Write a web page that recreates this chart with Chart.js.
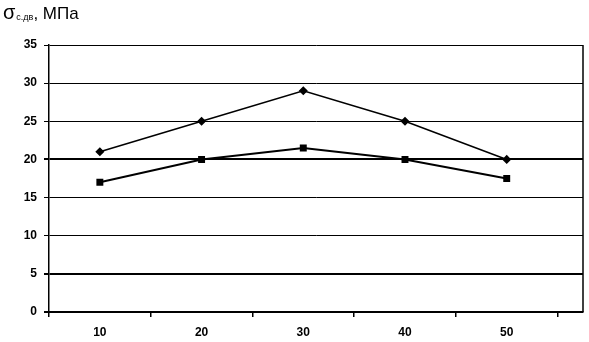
<!DOCTYPE html>
<html>
<head>
<meta charset="utf-8">
<script src="https://cdn.jsdelivr.net/npm/chart.js@4/dist/chart.umd.min.js"></script>
<style>
  html, body { margin: 0; padding: 0; background: #fff; }
  #wrap { width: 589px; height: 342px; position: relative; }
</style>
</head>
<body>
<div id="wrap"><canvas id="grafico"></canvas></div>
<script>
// dados do gráfico
var categorias = [10, 20, 30, 40, 50];
var serieSuperior = [21, 25, 29, 25, 20];
var serieInferior = [17, 20, 21.5, 20, 17.5];
var ticksY = [0, 5, 10, 15, 20, 25, 30, 35];
var tituloEixo = { base: 'σ', sub: 'с.дв', resto: ', МПа' };

// linhas de grade mais grossas (como no original)
var gradeGrossa = [0, 5, 20];

function pontos(valores) {
    return categorias.map(function (c, i) { return { x: c, y: valores[i] }; });
}

// título do eixo Y e borda direita
var pluginExtra = {
    id: 'extra',
    afterDraw: function (chart) {
        var ctx = chart.ctx;
        var area = chart.chartArea;
        ctx.save();
        ctx.fillStyle = '#000';
        ctx.textBaseline = 'alphabetic';
        ctx.font = '20px "Liberation Sans", Arial, sans-serif';
        ctx.fillText(tituloEixo.base, 3, 19);
        var w = ctx.measureText(tituloEixo.base).width;
        ctx.font = '9px "Liberation Sans", Arial, sans-serif';
        ctx.fillText(tituloEixo.sub, 3 + w + 1, 20);
        var w2 = ctx.measureText(tituloEixo.sub).width;
        ctx.font = '17px "Liberation Sans", Arial, sans-serif';
        ctx.fillText(tituloEixo.resto, 3 + w + w2 + 1, 19);
        // borda direita
        ctx.strokeStyle = '#000';
        ctx.lineWidth = 1.5;
        ctx.beginPath();
        ctx.moveTo(area.right, area.top);
        ctx.lineTo(area.right, area.bottom);
        ctx.stroke();
        ctx.restore();
    }
};

var ctx = document.getElementById('grafico').getContext('2d');

var grafico = new Chart(ctx, {
    type: 'line',
    data: {
        datasets: [{
            data: pontos(serieSuperior),
            borderColor: '#000',
            backgroundColor: '#000',
            borderWidth: 1.5,
            pointStyle: 'rectRot',
            pointRadius: 3.5,
            tension: 0,
            fill: false
        }, {
            data: pontos(serieInferior),
            borderColor: '#000',
            backgroundColor: '#000',
            borderWidth: 2,
            pointStyle: 'rect',
            pointRadius: 3.5,
            tension: 0,
            fill: false
        }]
    },
    options: {
        responsive: true,
        maintainAspectRatio: false,
        animation: false,
        layout: { padding: { top: 45, right: 4, left: 0, bottom: 0 } },
        plugins: {
            legend: { display: false },
            tooltip: { enabled: false }
        },
        scales: {
            x: {
                type: 'linear',
                min: 5,
                max: 57.5,
                afterBuildTicks: function (scale) {
                    var t = [];
                    for (var v = 5; v <= 55; v += 5) t.push({ value: v });
                    scale.ticks = t;
                },
                afterFit: function (scale) { scale.height = 30; },
                grid: {
                    drawOnChartArea: false,
                    tickLength: 5,
                    tickColor: function (c) {
                        return (c.tick && c.tick.value % 10 === 0) ? 'rgba(0,0,0,0)' : '#000';
                    },
                    lineWidth: 1.5
                },
                border: { color: '#000', width: 2 },
                ticks: {
                    color: '#000',
                    autoSkip: false,
                    maxRotation: 0,
                    padding: 8,
                    font: { family: '"Liberation Sans", Arial, sans-serif', size: 12, weight: 'bold' },
                    callback: function (v) {
                        return categorias.indexOf(v) >= 0 ? String(v) : '';
                    }
                }
            },
            y: {
                min: 0,
                max: 35,
                afterBuildTicks: function (scale) {
                    scale.ticks = ticksY.map(function (v) { return { value: v }; });
                },
                afterFit: function (scale) { scale.width = 49; },
                grid: {
                    color: '#000',
                    tickLength: 5,
                    lineWidth: function (c) {
                        return (c.tick && gradeGrossa.indexOf(c.tick.value) >= 0) ? 2 : 1;
                    }
                },
                border: { color: '#000', width: 1.5 },
                ticks: {
                    color: '#000',
                    padding: 7,
                    font: { family: '"Liberation Sans", Arial, sans-serif', size: 12, weight: 'bold' }
                }
            }
        }
    },
    plugins: [pluginExtra]
});
</script>
</body>
</html>
